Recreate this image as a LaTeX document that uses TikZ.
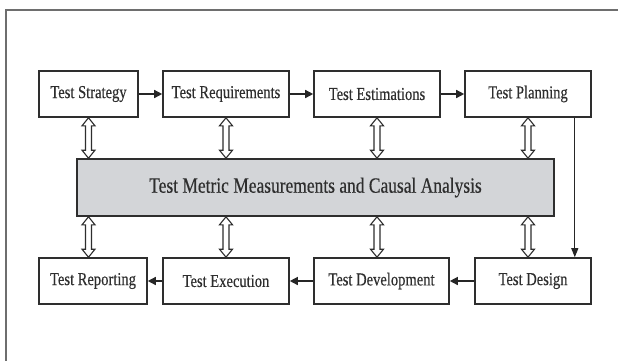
\documentclass[tikz,border=0pt]{standalone}
\usepackage{fontspec}
\setmainfont[FakeStretch=0.80,FakeBold=0.35]{Liberation Serif}
\usetikzlibrary{arrows.meta,calc}

\definecolor{inkgray}{HTML}{2E2E2E}
\definecolor{framegray}{HTML}{6E6E6E}
\definecolor{panelgray}{HTML}{D3D5D8}

\tikzset{
  stage/.style={draw=inkgray, line width=1.6pt, fill=white, text=inkgray,
    minimum height=46pt, inner sep=0pt, font=\fontsize{18.2}{20}\selectfont},
  hub/.style={draw=inkgray, line width=1.6pt, fill=panelgray, text=inkgray,
    minimum width=477pt, minimum height=57pt, inner sep=0pt,
    font=\fontsize{21.8}{24}\selectfont},
  flow/.style={draw=black!85, line width=1.4pt, -{Triangle[length=8pt,width=8pt]}},
  thinflow/.style={draw=black!85, line width=1pt, -{Triangle[length=9pt,width=7pt]}},
  link/.style={draw=inkgray, line width=1.1pt, fill=white, line join=miter},
}

% hollow two-headed arrow between the lower side of #2 and the upper side of #3,
% along the vertical through the centre of #1
\newcommand\linkarrow[3]{%
  \draw[link] let \p1=(#1.south), \p2=(#2.south), \p3=(#3.north) in
    (\x1,\y2) -- (\x1-6.5pt,\y2-8pt) -- (\x1-3pt,\y2-8pt) -- (\x1-3pt,\y3+8pt)
    -- (\x1-6.5pt,\y3+8pt) -- (\x1,\y3) -- (\x1+6.5pt,\y3+8pt) -- (\x1+3pt,\y3+8pt)
    -- (\x1+3pt,\y2-8pt) -- (\x1+6.5pt,\y2-8pt) -- cycle;}

\begin{document}
\begin{tikzpicture}[x=1pt,y=-1pt]
  \useasboundingbox (0,0) rectangle (618,360);
  \fill[white] (0,0) rectangle (618,360);

  % outer frame (top and left edges)
  \draw[framegray, line width=2pt] (618,10) -- (6,10) -- (6,362);

  % upper row
  \node[stage, minimum width=99pt]  (strat) at (88.5,94) {Test Strategy};
  \node[stage, minimum width=126pt] (req)   at (226,94)  {Test Requirements};
  \node[stage, minimum width=126pt] (est)   at (377,94)  {Test Estimations};
  \node[stage, minimum width=126pt] (plan)  at (528,94)  {Test Planning};

  % central panel
  \node[hub] (hub) at (315.5,187.5) {Test Metric Measurements and Causal Analysis};

  % lower row
  \node[stage, minimum width=108pt] (rep) at (93,281)    {Test Reporting};
  \node[stage, minimum width=126pt] (exe) at (226,281)   {Test Execution};
  \node[stage, minimum width=135pt] (dev) at (381.5,281) {Test Development};
  \node[stage, minimum width=116pt] (des) at (533,281)   {Test Design};

  % process flow
  \draw[flow] (strat.east) -- (req.west);
  \draw[flow] (req.east) -- (est.west);
  \draw[flow] (est.east) -- (plan.west);
  \draw[thinflow] ([xshift=-17pt]plan.south east) -- ([xshift=-17pt]plan.south east |- des.north);
  \draw[flow] (des.west) -- (dev.east);
  \draw[flow] (dev.west) -- (exe.east);
  \draw[flow] (exe.west) -- (rep.east);

  % links with the central panel
  \linkarrow{strat}{strat}{hub}
  \linkarrow{req}{req}{hub}
  \linkarrow{est}{est}{hub}
  \linkarrow{plan}{plan}{hub}
  \linkarrow{strat}{hub}{rep}
  \linkarrow{req}{hub}{exe}
  \linkarrow{est}{hub}{dev}
  \linkarrow{plan}{hub}{des}
\end{tikzpicture}
\end{document}
